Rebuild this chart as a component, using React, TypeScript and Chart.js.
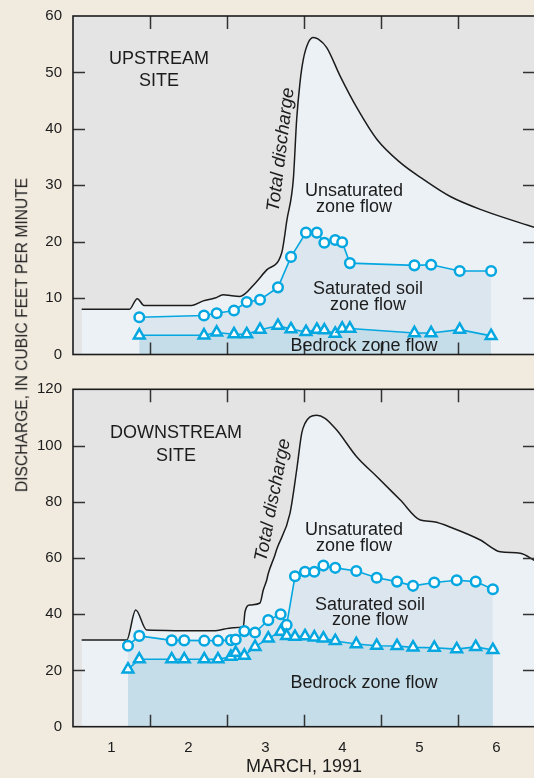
import React, { useEffect, useRef } from 'react';
import { Chart, registerables } from 'chart.js';

Chart.register(...registerables);

// ---------- shared axis data ----------
const DAY_LABELS = ['1', '2', '3', '4', '5', '6'];
const DAY_LABEL_POS = [1, 2, 3, 4, 5, 6];
const DAY_BOUNDARIES = [1.5, 2.5, 3.5, 4.5, 5.5];
const X_TITLE = 'MARCH, 1991';
const Y_TITLE = 'DISCHARGE, IN CUBIC FEET PER MINUTE';

// ---------- upstream site ----------
const UP_TOTAL_X = [0.613, 1.231, 1.335, 1.422, 2.042, 2.192, 2.344, 2.452, 2.561, 2.669, 2.864, 3.016, 3.21, 3.279, 3.361, 3.405, 3.448, 3.491, 3.556, 3.621, 3.686, 3.795, 3.971, 4.188, 4.448, 4.751, 5.055, 5.4, 5.834, 6.5];
const UP_TOTAL_Y = [8.0, 8.0, 9.9, 8.7, 8.7, 9.5, 10.0, 10.6, 10.4, 10.3, 12.6, 15.0, 18.0, 23.9, 31.0, 41.7, 48.2, 52.3, 55.3, 56.2, 55.9, 54.4, 49.3, 43.7, 38.1, 34.0, 31.0, 28.0, 25.5, 22.5];
const UP_TIMES = [1.361, 2.201, 2.366, 2.591, 2.756, 2.929, 3.162, 3.331, 3.526, 3.667, 3.764, 3.905, 3.996, 4.096, 4.934, 5.151, 5.522, 5.93];
const UP_SATURATED = [6.6, 6.9, 7.3, 7.8, 9.3, 9.7, 11.9, 17.3, 21.6, 21.6, 19.8, 20.3, 19.9, 16.2, 15.8, 15.9, 14.8, 14.8];
const UP_BEDROCK = [3.4, 3.4, 3.9, 3.6, 3.6, 4.4, 5.1, 4.5, 4.0, 4.4, 4.3, 3.7, 4.6, 4.6, 3.8, 3.8, 4.4, 3.3];

// ---------- downstream site ----------
const DOWN_TOTAL_X = [0.613, 1.197, 1.314, 1.457, 2.322, 2.582, 2.712, 2.734, 2.799, 2.929, 2.971, 3.016, 3.036, 3.123, 3.145, 3.318, 3.405, 3.47, 3.513, 3.578, 3.665, 3.773, 3.925, 4.184, 4.448, 4.751, 5.01, 5.184, 5.444, 5.79, 6.049, 6.309, 6.5];
const DOWN_TOTAL_Y = [30.8, 30.8, 41.5, 34.4, 34.1, 35.2, 35.6, 40.9, 43.3, 44.0, 48.6, 52.2, 54.5, 61.1, 63.0, 75.9, 91.3, 104.3, 107.9, 110.2, 110.8, 109.7, 105.5, 96.0, 88.9, 80.6, 73.5, 72.9, 70.5, 66.4, 62.2, 61.7, 59.0];
const DOWN_TIMES = [1.214, 1.361, 1.782, 1.945, 2.205, 2.383, 2.55, 2.613, 2.725, 2.864, 3.036, 3.197, 3.275, 3.383, 3.513, 3.634, 3.752, 3.906, 4.179, 4.444, 4.708, 4.916, 5.192, 5.483, 5.73, 5.953];
const DOWN_SATURATED = [28.8, 32.3, 30.7, 30.7, 30.6, 30.6, 30.8, 31.0, 34.0, 33.5, 37.9, 40.0, 36.2, 53.5, 55.1, 55.1, 57.3, 56.5, 55.4, 53.0, 51.6, 50.1, 51.3, 52.1, 51.6, 48.9];
const DOWN_BEDROCK = [20.4, 24.0, 24.0, 24.0, 24.0, 24.0, 24.9, 26.3, 25.3, 28.4, 31.4, 33.8, 32.3, 32.0, 32.2, 31.8, 31.4, 30.5, 29.4, 28.8, 28.7, 28.2, 28.1, 27.6, 28.4, 27.3];

// ---------- style ----------
const FONT = '"Liberation Sans", Arial, Helvetica, sans-serif';
const INK = '#1c1c1c';
const PAGE_BG = '#f1eadf';
const PLOT_BG = '#e4e4e4';
const FILL_TOTAL = '#ecf1f5';
const FILL_SAT = '#dce6ef';
const FILL_BED = '#c5dde9';
const CYAN = '#05a7e1';

type Note = { lines: string[]; x: number; y: number; gap?: number; rot?: number; italic?: boolean; size?: number };

type Panel = {
  totalX: number[]; totalY: number[]; times: number[]; sat: number[]; bed: number[];
  yMax: number; yStep: number; notes: Note[];
};

const UP_PANEL: Panel = {
  totalX: UP_TOTAL_X, totalY: UP_TOTAL_Y, times: UP_TIMES, sat: UP_SATURATED, bed: UP_BEDROCK,
  yMax: 60, yStep: 10,
  notes: [
    { lines: ['UPSTREAM', 'SITE'], x: 1.617, y: 52.3, gap: 22 },
    { lines: ['Total discharge'], x: 3.201, y: 36.3, rot: -83, italic: true, size: 18.5 },
    { lines: ['Unsaturated', 'zone flow'], x: 4.149, y: 29.0, gap: 16.5 },
    { lines: ['Saturated soil', 'zone flow'], x: 4.331, y: 11.6, gap: 15.5 },
    { lines: ['Bedrock zone flow'], x: 4.279, y: 1.56 },
  ],
};

const DOWN_PANEL: Panel = {
  totalX: DOWN_TOTAL_X, totalY: DOWN_TOTAL_Y, times: DOWN_TIMES, sat: DOWN_SATURATED, bed: DOWN_BEDROCK,
  yMax: 120, yStep: 20,
  notes: [
    { lines: ['DOWNSTREAM', 'SITE'], x: 1.838, y: 104.4, gap: 23 },
    { lines: ['Total discharge'], x: 3.097, y: 80.6, rot: -79, italic: true, size: 18.5 },
    { lines: ['Unsaturated', 'zone flow'], x: 4.149, y: 69.9, gap: 16 },
    { lines: ['Saturated soil', 'zone flow'], x: 4.357, y: 43.3, gap: 15 },
    { lines: ['Bedrock zone flow'], x: 4.279, y: 15.5 },
  ],
};

const panelPlugin = {
  id: 'panelDecor',
  beforeDraw(chart: any) {
    const { ctx, chartArea: a } = chart;
    ctx.save();
    ctx.fillStyle = PLOT_BG;
    ctx.fillRect(a.left, a.top, a.right - a.left, a.bottom - a.top);
    ctx.restore();
  },
  afterDatasetsDraw(chart: any) {
    const { ctx, chartArea: a, scales } = chart;
    const yS = scales.y;
    const xS = scales.x;
    ctx.save();
    ctx.strokeStyle = '#333';
    ctx.lineWidth = 1.5;
    ctx.beginPath();
    yS.ticks.forEach((t: any) => {
      if (t.value <= yS.min || t.value >= yS.max) return;
      const py = Math.round(yS.getPixelForValue(t.value)) + 0.5;
      ctx.moveTo(a.left, py); ctx.lineTo(a.left + 12, py);
      ctx.moveTo(a.right - 12, py); ctx.lineTo(a.right, py);
    });
    DAY_BOUNDARIES.forEach((d) => {
      const px = Math.round(xS.getPixelForValue(d)) + 0.5;
      ctx.moveTo(px, a.top); ctx.lineTo(px, a.top + 13);
      ctx.moveTo(px, a.bottom - 12); ctx.lineTo(px, a.bottom);
    });
    ctx.stroke();
    ctx.strokeStyle = INK;
    ctx.lineWidth = 1.6;
    ctx.strokeRect(a.left, a.top, a.right - a.left, a.bottom - a.top);
    ctx.restore();
  },
  afterDraw(chart: any, _args: any, opts: any) {
    const { ctx, scales } = chart;
    const notes: Note[] = opts.notes || [];
    ctx.save();
    ctx.fillStyle = INK;
    ctx.textAlign = 'center';
    ctx.textBaseline = 'middle';
    notes.forEach((n) => {
      const px = scales.x.getPixelForValue(n.x);
      const py = scales.y.getPixelForValue(n.y);
      ctx.save();
      ctx.translate(px, py);
      if (n.rot) ctx.rotate((n.rot * Math.PI) / 180);
      ctx.font = `${n.italic ? 'italic ' : ''}${n.size || 18}px ${FONT}`;
      n.lines.forEach((line, i) => ctx.fillText(line, 0, i * (n.gap || 0)));
      ctx.restore();
    });
    ctx.restore();
  },
};

function buildConfig(p: Panel, bottom: boolean, xAxisHeight: number): any {
  const toXY = (xs: number[], ys: number[]) => xs.map((x, i) => ({ x, y: ys[i] }));
  return {
    type: 'line',
    data: {
      datasets: [
        {
          label: 'Total discharge', data: toXY(p.totalX, p.totalY), order: 3,
          borderColor: INK, borderWidth: 1.5, pointRadius: 0, pointHoverRadius: 0,
          fill: 'origin', backgroundColor: FILL_TOTAL, cubicInterpolationMode: 'monotone',
        },
        {
          label: 'Saturated soil zone flow', data: toXY(p.times, p.sat), order: 2,
          borderColor: CYAN, borderWidth: 1.6, tension: 0,
          pointStyle: 'circle', pointRadius: 4.8, pointBorderWidth: 2.5,
          pointBackgroundColor: '#ffffff', pointBorderColor: CYAN,
          fill: 'origin', backgroundColor: FILL_SAT,
        },
        {
          label: 'Bedrock zone flow', data: toXY(p.times, p.bed), order: 1,
          borderColor: CYAN, borderWidth: 1.6, tension: 0,
          pointStyle: 'triangle', pointRadius: 6.2, pointBorderWidth: 2.5,
          pointBackgroundColor: '#ffffff', pointBorderColor: CYAN,
          fill: 'origin', backgroundColor: FILL_BED,
        },
      ],
    },
    options: {
      responsive: false,
      animation: false,
      devicePixelRatio: 1,
      layout: { padding: { top: bottom ? 16.3 : 16, right: 10, left: 0, bottom: bottom ? 0 : 10.5 } },
      plugins: {
        legend: { display: false },
        tooltip: { enabled: false },
        panelDecor: { notes: p.notes },
      },
      events: [],
      scales: {
        x: {
          type: 'linear', min: 0.5, max: 6.5, display: bottom,
          grid: { display: false, drawTicks: true, tickLength: 12 }, border: { display: false },
          afterBuildTicks: (s: any) => { s.ticks = DAY_LABEL_POS.map((v) => ({ value: v })); },
          ticks: {
            color: INK, font: { family: FONT, size: 15 }, padding: 0, maxRotation: 0, autoSkip: false,
            callback: (v: any) => DAY_LABELS[DAY_LABEL_POS.indexOf(v)] ?? '',
          },
          title: { display: bottom, text: X_TITLE, color: INK, font: { family: FONT, size: 18 }, padding: { top: 0, bottom: 0 } },
          afterFit: bottom ? (s: any) => { s.height = xAxisHeight; } : undefined,
        },
        y: {
          type: 'linear', min: 0, max: p.yMax,
          grid: { display: false, drawTicks: true, tickLength: 11 }, border: { display: false },
          ticks: { stepSize: p.yStep, color: INK, font: { family: FONT, size: 15 }, padding: 0 },
          afterFit: (s: any) => { s.width = 73; },
        },
      },
    },
    plugins: [panelPlugin],
  };
}

function PanelChart({ panel, bottom, top, height }: { panel: Panel; bottom: boolean; top: number; height: number }) {
  const ref = useRef<HTMLCanvasElement | null>(null);
  useEffect(() => {
    if (!ref.current) return;
    const chart = new Chart(ref.current, buildConfig(panel, bottom, height - 353.7));
    return () => chart.destroy();
  }, [panel, bottom, height]);
  return (
    <canvas
      ref={ref}
      width={545}
      height={height}
      style={{ position: 'absolute', left: 0, top, width: 545, height }}
    />
  );
}

export default function App() {
  return (
    <div
      style={{
        position: 'fixed', left: 0, top: 0, width: 534, height: 778, overflow: 'hidden',
        background: PAGE_BG, fontFamily: FONT,
      }}
    >
      <PanelChart panel={UP_PANEL} bottom={false} top={0} height={365} />
      <PanelChart panel={DOWN_PANEL} bottom={true} top={373} height={405} />
      <div
        style={{
          position: 'absolute', left: 22, top: 335, transform: 'translate(-50%, -50%) rotate(-90deg)',
          whiteSpace: 'nowrap', fontSize: 15.6, color: INK, lineHeight: 1,
        }}
      >
        {Y_TITLE}
      </div>
    </div>
  );
}
